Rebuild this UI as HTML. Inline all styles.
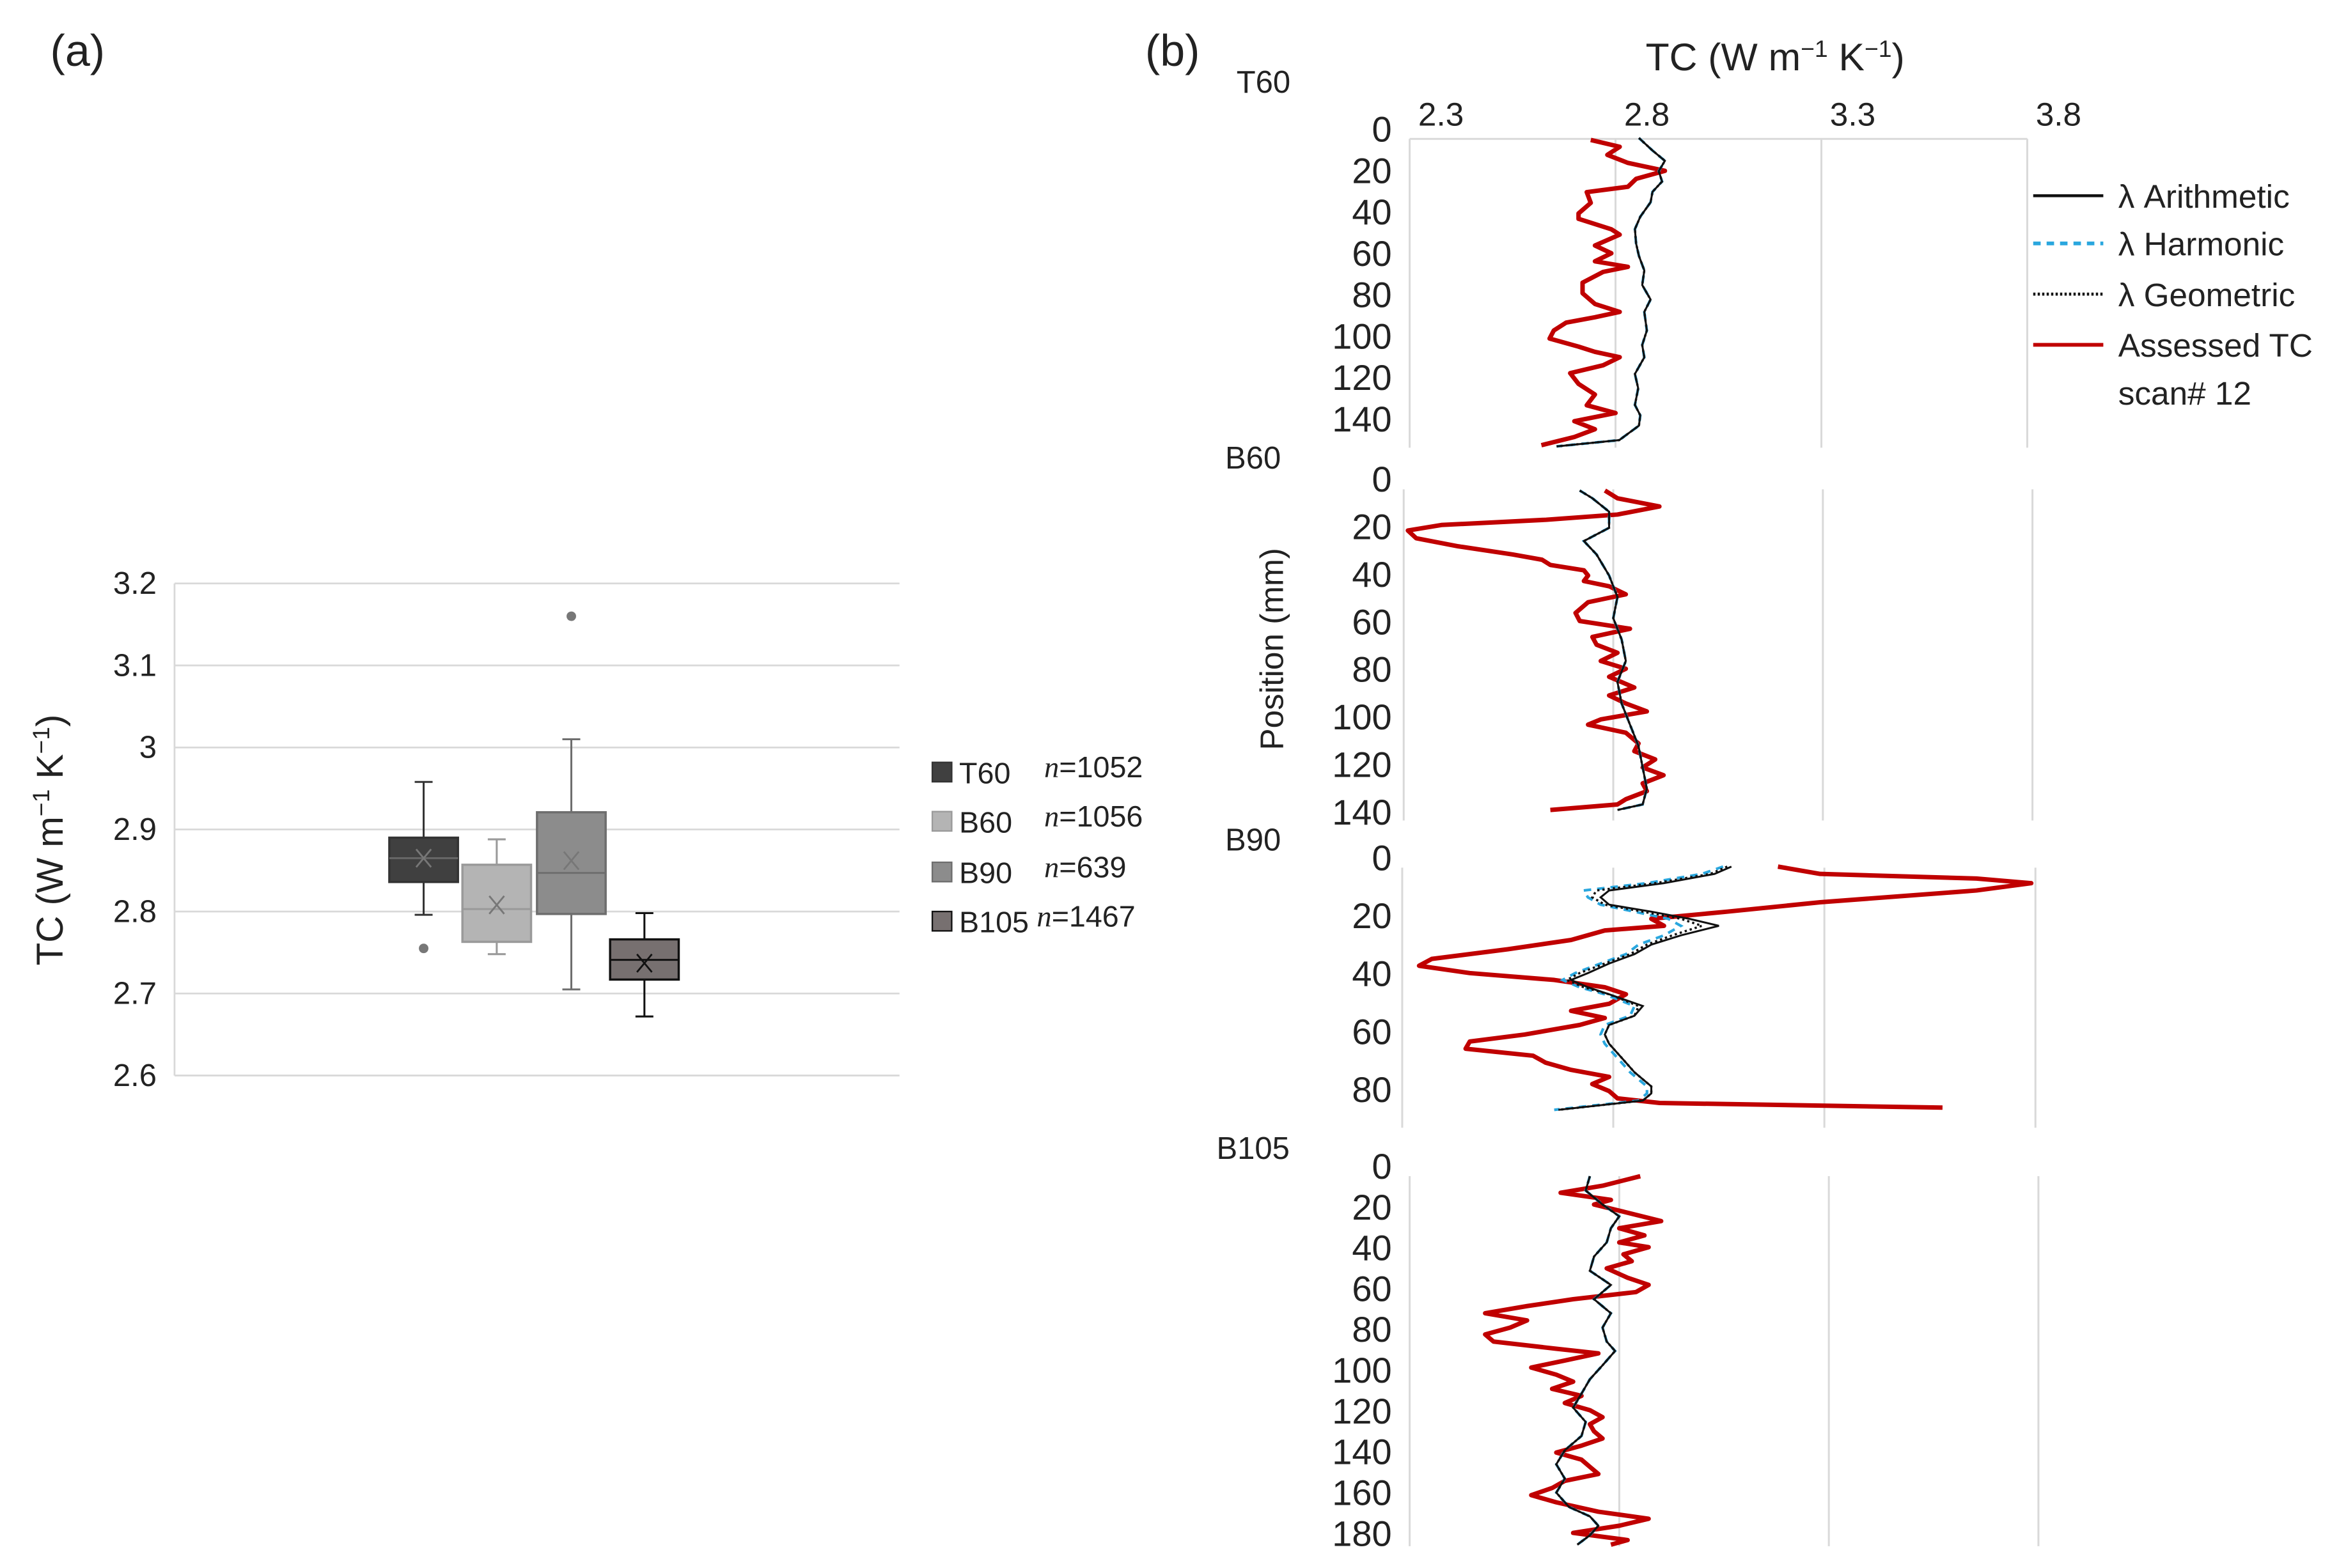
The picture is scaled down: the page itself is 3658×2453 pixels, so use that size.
<!DOCTYPE html>
<html><head><meta charset="utf-8"><style>
html,body{margin:0;padding:0;background:#fff}
svg{display:block}
text{font-family:"Liberation Sans Narrow","Liberation Sans",sans-serif;fill:#222}
</style></head><body>
<svg id="fig" xmlns="http://www.w3.org/2000/svg" width="3658" height="2453" viewBox="0 0 1568 1051">
<text x="52" y="44" font-size="30" text-anchor="middle" style="font-family:'Liberation Sans',sans-serif">(a)</text>
<text x="786" y="44" font-size="30" text-anchor="middle" style="font-family:'Liberation Sans',sans-serif">(b)</text>
<g id="boxchart"></g>
<g id="profiles"></g>
</svg>
<script>
// ---------- Panel (a) box plot data ----------
const boxCategories = ["T60","B60","B90","B105"];
const boxCounts = ["1052","1056","639","1467"];
const boxMin = [2.796,2.748,2.705,2.672];
const boxQ1 = [2.836,2.763,2.797,2.717];
const boxMedian = [2.865,2.803,2.847,2.741];
const boxQ3 = [2.890,2.857,2.921,2.766];
const boxMax = [2.958,2.888,3.010,2.798];
const boxMean = [2.865,2.808,2.862,2.737];
const boxOutliers = [[2.755],[],[3.160],[]];
const boxTicks = [2.6,2.7,2.8,2.9,3.0,3.1,3.2];
const boxTickLabels = ["2.6","2.7","2.8","2.9","3","3.1","3.2"];

// ---------- Panel (b) profile data (position mm, TC) ----------
const t60ArithPos = [4,10,15,20,25,30,35,42,48,55,61,68,75,82,88,97,104,110,118,125,133,138,143,150,153];
const t60ArithVal = [2.857,2.89,2.92,2.905,2.913,2.89,2.885,2.86,2.847,2.85,2.857,2.87,2.865,2.885,2.87,2.876,2.865,2.87,2.847,2.855,2.847,2.86,2.857,2.809,2.657];
const t60RedPos = [4.9,8.2,12.1,16,19.8,23.7,27.5,30.1,35.3,40.4,43,48.1,50.7,55.9,59.7,63.6,66.2,68.7,73.9,79,84.2,88,90.6,93.2,97,100.9,104.8,107.3,109.9,113.8,117.6,122.8,127.9,133.1,136.9,140.8,144.7,148.5,152.4];
const t60RedVal = [2.74,2.81,2.78,2.83,2.92,2.85,2.83,2.73,2.74,2.71,2.71,2.79,2.81,2.75,2.79,2.75,2.83,2.77,2.72,2.72,2.75,2.81,2.75,2.68,2.65,2.64,2.71,2.75,2.81,2.77,2.69,2.71,2.75,2.73,2.80,2.70,2.75,2.70,2.62];

const b60ArithPos = [4.5,7.8,13.4,20.2,25.8,31.4,40.3,49.3,58.2,67.2,76.2,85.1,94.1,103,112,121,129.9,136.6,138.9];
const b60ArithVal = [2.72,2.75,2.79,2.79,2.73,2.76,2.79,2.81,2.80,2.82,2.83,2.81,2.82,2.84,2.86,2.87,2.88,2.87,2.81];
const b60RedPos = [4.5,7.8,11.2,14.6,16.8,19.0,21.3,24.6,28.0,31.4,33.6,35.8,38.1,40.3,42.6,44.8,48.2,51.5,56.0,59.4,62.7,66.1,69.4,72.8,76.2,79.5,82.9,87.4,90.7,94.1,97.4,100.8,103.0,106.4,110.9,114.2,117.6,121.0,124.3,127.7,131.0,134.4,136.6,138.9];
const b60RedVal = [2.78,2.81,2.91,2.81,2.64,2.39,2.31,2.33,2.43,2.56,2.63,2.65,2.73,2.74,2.73,2.79,2.83,2.74,2.71,2.72,2.84,2.75,2.76,2.81,2.77,2.83,2.79,2.85,2.79,2.83,2.88,2.77,2.74,2.83,2.86,2.85,2.90,2.87,2.92,2.87,2.88,2.83,2.81,2.65];

const b90ArithPos = [2.9,5.4,8.6,11.1,13.5,16.0,18.4,20.9,23.3,26.6,29.8,33.1,36.3,39.6,42.0,44.5,46.9,51.0,54.3,57.5,60.8,64.0,68.9,73.8,78.7,81.1,83.6,86.8];
const b90ArithVal = [3.08,3.04,2.92,2.79,2.77,2.79,2.89,2.98,3.05,2.96,2.89,2.85,2.79,2.74,2.70,2.74,2.79,2.87,2.85,2.79,2.78,2.79,2.82,2.85,2.89,2.89,2.87,2.67];
const b90HarmVal = [3.06,3.01,2.88,2.73,2.74,2.77,2.85,2.93,2.96,2.92,2.86,2.83,2.77,2.71,2.68,2.72,2.78,2.85,2.84,2.78,2.77,2.78,2.81,2.84,2.88,2.88,2.86,2.66];
const b90GeomVal = [3.07,3.03,2.90,2.76,2.75,2.78,2.87,2.96,3.01,2.94,2.88,2.84,2.78,2.72,2.69,2.73,2.79,2.86,2.85,2.79,2.78,2.79,2.82,2.85,2.89,2.89,2.87,2.67];
const b90RedPos = [2.9,5.4,7.0,8.6,11.1,15.2,18.4,20.9,23.3,24.9,28.2,31.4,34.7,37.1,39.6,42.0,44.5,46.9,50.2,52.6,55.1,57.5,60.8,63.2,65.7,68.1,70.5,73.0,75.4,77.9,80.3,82.8,84.4,86.0];
const b90RedVal = [3.19,3.29,3.66,3.79,3.66,3.29,3.07,2.89,2.92,2.78,2.70,2.55,2.37,2.34,2.46,2.66,2.78,2.83,2.79,2.70,2.78,2.72,2.59,2.46,2.45,2.61,2.64,2.70,2.79,2.75,2.79,2.81,2.91,3.58];

const b105ArithPos = [4.6,11.6,18.5,24.3,30.1,37.1,44.0,51.0,57.9,64.9,71.8,78.8,85.7,90.3,97.3,104.2,111.2,118.1,125.1,132.0,139.0,145.9,152.9,159.8,166.8,171.4,176.0,180.7,185.3];
const b105ArithVal = [2.73,2.72,2.76,2.80,2.78,2.77,2.74,2.73,2.78,2.74,2.78,2.76,2.77,2.79,2.76,2.73,2.71,2.69,2.72,2.71,2.67,2.65,2.67,2.65,2.68,2.73,2.75,2.73,2.70];
const b105RedPos = [4.6,9.3,12.7,16.2,18.5,22.0,26.6,30.1,33.6,37.1,39.4,42.9,46.3,49.8,54.4,57.9,61.4,64.9,68.3,71.8,75.3,78.8,82.2,85.7,89.2,91.5,95.0,98.4,101.9,105.4,108.9,112.3,115.8,119.3,122.8,126.2,129.7,133.2,136.7,140.1,143.6,147.1,150.6,154.0,157.5,161.0,164.5,169.1,172.6,176.0,179.5,183.0,185.3];
const b105RedVal = [2.85,2.76,2.66,2.78,2.74,2.81,2.90,2.80,2.86,2.80,2.87,2.81,2.83,2.77,2.82,2.87,2.84,2.69,2.58,2.48,2.58,2.54,2.48,2.50,2.65,2.75,2.67,2.59,2.65,2.69,2.64,2.71,2.67,2.73,2.76,2.73,2.74,2.76,2.71,2.65,2.71,2.73,2.75,2.67,2.64,2.59,2.65,2.75,2.87,2.80,2.69,2.82,2.78];

const xTicksB = [2.3,2.8,3.3,3.8];
const xTickLabelsB = ["2.3","2.8","3.3","3.8"];
const t60YTicks = [0,20,40,60,80,100,120,140];
const b60YTicks = [0,20,40,60,80,100,120,140];
const b90YTicks = [0,20,40,60,80];
const b105YTicks = [0,20,40,60,80,100,120,140,160,180];

const NS = "http://www.w3.org/2000/svg";
function mk(tag, attrs, parent){
  const e = document.createElementNS(NS, tag);
  for (const k in attrs) e.setAttribute(k, attrs[k]);
  parent.appendChild(e);
  return e;
}

// ---------- draw panel (a) ----------
(function(){
  const g = document.getElementById('boxchart');
  const yA = v => 391 + (3.2 - v) * 550;
  const xLeft = 117, xRight = 603;
  boxTicks.forEach((t,i)=>{
    const l = mk('line',{x1:xLeft,x2:xRight,y1:yA(t),y2:yA(t),stroke:'#d9d9d9','stroke-width':1.2},g);
    
    
    const tx = mk('text',{x:105,y:yA(t)+7,'font-size':21,'text-anchor':'end'},g);
    tx.textContent = boxTickLabels[i];
    
    
  });
  const ax = mk('line',{x1:xLeft,x2:xLeft,y1:391,y2:721,stroke:'#d9d9d9','stroke-width':1.2},g);
  
  
  const yt = mk('text',{x:0,y:0,'font-size':25,'text-anchor':'middle',transform:'translate(42,563) rotate(-90)',style:"font-family:'Liberation Sans',sans-serif"},g);
  yt.innerHTML = 'TC (W m<tspan dy="-9" font-size="16">−1</tspan><tspan dy="9"> K</tspan><tspan dy="-9" font-size="16">−1</tspan><tspan dy="9">)</tspan>';
  
  

  const fills = ['#404040','#b4b4b4','#8c8c8c','#777070'];
  const strokes = ['#333333','#9a9a9a','#6e6e6e','#111111'];
  const medStroke = ['#666','#999','#6e6e6e','#111'];
  const centers = [284,333,383,432];
  const hw = 23;
  boxCategories.forEach((c,i)=>{
    const bg = mk('g',{},g);
    
    
    const cx = centers[i];
    mk('line',{x1:cx,x2:cx,y1:yA(boxMax[i]),y2:yA(boxQ3[i]),stroke:strokes[i],'stroke-width':1.3},bg);
    mk('line',{x1:cx,x2:cx,y1:yA(boxQ1[i]),y2:yA(boxMin[i]),stroke:strokes[i],'stroke-width':1.3},bg);
    mk('line',{x1:cx-6,x2:cx+6,y1:yA(boxMax[i]),y2:yA(boxMax[i]),stroke:strokes[i],'stroke-width':1.3},bg);
    mk('line',{x1:cx-6,x2:cx+6,y1:yA(boxMin[i]),y2:yA(boxMin[i]),stroke:strokes[i],'stroke-width':1.3},bg);
    mk('rect',{x:cx-hw,y:yA(boxQ3[i]),width:hw*2,height:yA(boxQ1[i])-yA(boxQ3[i]),fill:fills[i],stroke:strokes[i],'stroke-width':1.5},bg);
    mk('line',{x1:cx-hw,x2:cx+hw,y1:yA(boxMedian[i]),y2:yA(boxMedian[i]),stroke:medStroke[i],'stroke-width':1.3},bg);
    const my = yA(boxMean[i]);
    mk('path',{d:`M${cx-5},${my-6}L${cx+5},${my+6}M${cx+5},${my-6}L${cx-5},${my+6}`,stroke:i==3?'#111':'#777','stroke-width':1.2,fill:'none'},bg);
    boxOutliers[i].forEach(o=>{
      const d = mk('circle',{cx:cx,cy:yA(o),r:3.2,fill:'#777'},bg);
      
      
    });
  });
  const legY = [517,550,584,617];
  const nX = [700,700,700,695];
  boxCategories.forEach((c,i)=>{
    const lg = mk('g',{},g);
    
    
    mk('rect',{x:625,y:legY[i]-6,width:13,height:13,fill:fills[i],stroke:strokes[i],'stroke-width':1},lg);
    const t = mk('text',{x:643,y:legY[i]+8,'font-size':20},lg);
    t.textContent = c;
    const n = mk('text',{x:nX[i],y:legY[i]+4,'font-size':20},lg);
    n.innerHTML = '<tspan font-style="italic" style="font-family:\'Liberation Serif\',serif">n</tspan>=' + boxCounts[i];
  });
})();

// ---------- draw panel (b) ----------
(function(){
  const g = document.getElementById('profiles');
  const panels = [
    {name:'T60', lx:847, ly:62, y0:86.8, k:1.3875, top:92.9, bot:300, x0:945, u:276, ticks:t60YTicks, border:true,
     arithPos:t60ArithPos, arith:t60ArithVal, harm:t60ArithVal, geom:t60ArithVal, redPos:t60RedPos, red:t60RedVal},
    {name:'B60', lx:840, ly:314, y0:321.5, k:1.594, top:327.9, bot:550, x0:941, u:281, ticks:b60YTicks, border:false,
     arithPos:b60ArithPos, arith:b60ArithVal, harm:b60ArithVal, geom:b60ArithVal, redPos:b60RedPos, red:b60RedVal},
    {name:'B90', lx:840, ly:570, y0:575.3, k:1.944, top:581.6, bot:756, x0:940, u:283, ticks:b90YTicks, border:false,
     arithPos:b90ArithPos, arith:b90ArithVal, harm:b90HarmVal, geom:b90GeomVal, redPos:b90RedPos, red:b90RedVal},
    {name:'B105', lx:840, ly:777, y0:782.2, k:1.3676, top:788.5, bot:1036.6, x0:945, u:281, ticks:b105YTicks, border:false,
     arithPos:b105ArithPos, arith:b105ArithVal, harm:b105ArithVal, geom:b105ArithVal, redPos:b105RedPos, red:b105RedVal}
  ];
  panels.forEach(p=>{
    const pg = mk('g',{},g);
    
    
    const X = v => p.x0 + (v-2.3)*p.u;
    const Y = mm => p.y0 + mm*p.k;
    xTicksB.forEach(t=>{
      const l = mk('line',{x1:X(t),x2:X(t),y1:p.top,y2:p.bot,stroke:'#d9d9d9','stroke-width':1.3},pg);
      
      
    });
    if(p.border){
      const b = mk('line',{x1:X(2.3),x2:X(3.8),y1:p.top,y2:p.top,stroke:'#d9d9d9','stroke-width':1.3},pg);
      
      
    }
    p.ticks.forEach(t=>{
      const tx = mk('text',{x:933,y:Y(t)+8,'font-size':24,'text-anchor':'end'},pg);
      tx.textContent = t;
      
      
    });
    const lab = mk('text',{x:p.lx,y:p.ly,'font-size':21,'text-anchor':'middle'},pg);
    lab.textContent = p.name;
    
    
    const path = (pos,vals)=> pos.map((m,i)=>(i?'L':'M')+X(vals[i]).toFixed(1)+','+Y(m).toFixed(1)).join('');
    const red = mk('path',{d:path(p.redPos,p.red),fill:'none',stroke:'#c00000','stroke-width':3,'stroke-linejoin':'round'},pg);
    
    
    const h = mk('path',{d:path(p.arithPos,p.harm),fill:'none',stroke:'#2aa7de','stroke-width':1.8,'stroke-dasharray':'5,4'},pg);
    
    
    const gm = mk('path',{d:path(p.arithPos,p.geom),fill:'none',stroke:'#111','stroke-width':1.5,'stroke-dasharray':'1.5,2'},pg);
    
    
    const a = mk('path',{d:path(p.arithPos,p.arith),fill:'none',stroke:'#111','stroke-width':1.3},pg);
    
    
  });
  xTicksB.forEach((t,i)=>{
    const tx = mk('text',{x:945+(t-2.3)*276+21,y:84,'font-size':22,'text-anchor':'middle'},g);
    tx.textContent = xTickLabelsB[i];
    
    
  });
  const xt = mk('text',{x:1190,y:47,'font-size':26,'text-anchor':'middle'},g);
  xt.innerHTML = 'TC (W m<tspan dy="-9" font-size="16">−1</tspan><tspan dy="9"> K</tspan><tspan dy="-9" font-size="16">−1</tspan><tspan dy="9">)</tspan>';
  
  
  const yt = mk('text',{x:0,y:0,'font-size':22,'text-anchor':'middle',transform:'translate(860,435) rotate(-90)',style:"font-family:'Liberation Sans',sans-serif"},g);
  yt.textContent = 'Position (mm)';
  
  
  const legNames = ['λ Arithmetic','λ Harmonic','λ Geometric','Assessed TC'];
  const legY = [131,163,197,231];
  const legStyle = [
    {stroke:'#111','stroke-width':2},
    {stroke:'#2aa7de','stroke-width':2.5,'stroke-dasharray':'5,4'},
    {stroke:'#111','stroke-width':2,'stroke-dasharray':'1.5,1.5'},
    {stroke:'#c00000','stroke-width':2.5}
  ];
  legNames.forEach((n,i)=>{
    const lg = mk('g',{},g);
    
    
    mk('line',Object.assign({x1:1363,x2:1410,y1:legY[i],y2:legY[i]},legStyle[i]),lg);
    const t = mk('text',{x:1420,y:legY[i]+8,'font-size':22},lg);
    t.textContent = n;
  });
  const sc = mk('text',{x:1420,y:271,'font-size':22},g);
  sc.textContent = 'scan# 12';
  
  
})();
</script>
</body></html>
